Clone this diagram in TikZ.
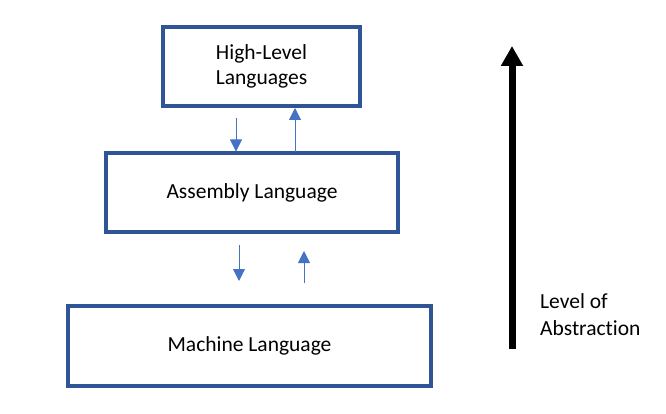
\documentclass[tikz,border=0pt]{standalone}
\usepackage{fontspec}
\setmainfont[Ligatures=NoCommon]{Carlito}
\usetikzlibrary{arrows.meta}
\definecolor{boxblue}{HTML}{2F5597}
\definecolor{arrblue}{HTML}{4472C4}
\begin{document}
\begin{tikzpicture}[x=1pt,y=-1pt,
  lvbox/.style={draw=boxblue,line width=4pt,fill=white,inner sep=0pt,font=\fontsize{21.5}{24.5}\selectfont,align=center},
  thin/.style={draw=arrblue,line width=1pt,-{Triangle[length=12pt,width=12pt]}}]
\useasboundingbox (0,0) rectangle (666,414);
\node[lvbox,minimum width=197pt,minimum height=79pt] (hl) at (261.5,66.5) {High-Level\\Languages};
\node[lvbox,minimum width=292pt,minimum height=78pt] (as) at (252,192.5) {Assembly Language};
\node[lvbox,minimum width=363pt,minimum height=80pt] (ml) at (249.5,346) {Machine Language};
\coordinate (a1s) at (236,118);
\coordinate (a2s) at (295,152);
\coordinate (a3s) at (239,245);
\coordinate (a3e) at (239,281);
\coordinate (a4s) at (304,283);
\coordinate (a4e) at (304,251);
\draw[thin] (a1s) -- (a1s |- as.north);
\draw[thin] (a2s) -- (a2s |- hl.south);
\draw[thin] (a3s) -- (a3e);
\draw[thin] (a4s) -- (a4e);
\coordinate (bs) at (512,349);
\coordinate (be) at (512,46);
\draw[line width=7pt,-{Triangle[length=20pt,width=21pt]}] (bs) -- (be);
\node[font=\fontsize{21.5}{27}\selectfont,align=left,anchor=base west,inner sep=0pt] (lab) at (540,335) {Level of\\Abstraction};
\end{tikzpicture}
\end{document}
